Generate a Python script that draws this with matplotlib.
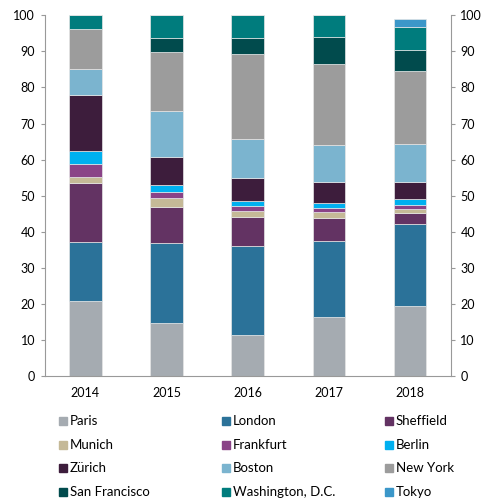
import numpy as np
from matplotlib import pyplot as plt
from matplotlib.patches import Rectangle

plt.rcParams['font.family'] = ['Lato', 'DejaVu Sans']
plt.rcParams['font.size'] = 9

years = ['2014', '2015', '2016', '2017', '2018']
cities = ['Paris', 'London', 'Sheffield', 'Munich', 'Frankfurt', 'Berlin',
          'Zürich', 'Boston', 'New York', 'San Francisco',
          'Washington, D.C.', 'Tokyo']
colors = ['#a5abb1', '#2b7299', '#633363', '#c5b997', '#8a4387', '#00b0f0',
          '#3d1d3c', '#7bb4cf', '#9c9c9c', '#014b4d', '#007c7d', '#3b97c9']

# share of each city per year (%)
paris = [20.8, 14.6, 11.4, 16.3, 19.4]
london = [16.3, 22.2, 24.6, 21.2, 22.8]
sheffield = [16.5, 10.0, 8.1, 6.4, 3.0]
munich = [1.6, 2.5, 1.7, 1.6, 1.1]
frankfurt = [3.7, 1.6, 1.4, 1.1, 1.2]
berlin = [3.5, 2.0, 1.3, 1.5, 1.7]
zurich = [15.4, 7.9, 6.4, 5.8, 4.6]
boston = [7.2, 12.7, 10.7, 10.1, 10.4]
new_york = [11.2, 16.3, 23.7, 22.6, 20.4]
san_francisco = [0.0, 3.9, 4.4, 7.5, 5.9]
washington = [3.8, 6.3, 6.3, 5.9, 6.3]
tokyo = [0.0, 0.0, 0.0, 0.0, 2.2]

series = [paris, london, sheffield, munich, frankfurt, berlin, zurich,
          boston, new_york, san_francisco, washington, tokyo]

W, H = 487, 501
fig = plt.figure(figsize=(W / 100, H / 100), dpi=100)
ax = fig.add_axes([44.7 / W, 1 - 376 / H, 406 / W, 360.7 / H])

x = np.arange(len(years))
bottom = np.zeros(len(years))
for vals, c in zip(series, colors):
    vals = np.array(vals)
    ax.bar(x, vals, 0.4, bottom=bottom, color=c, edgecolor='#e6e6e6',
           linewidth=0.5)
    bottom += vals

ax.set_xlim(-0.5, 4.5)
ax.set_ylim(0, 100)
ax.set_xticks(x)
ax.set_xticklabels(years)
ax.set_yticks(np.arange(0, 101, 10))
ax.tick_params(axis='x', length=0, pad=8, labelsize=9)
ax.tick_params(axis='y', which='both', left=True, right=True,
               labelleft=True, labelright=True, length=3, color='#999999',
               labelsize=9, pad=4)
for s in ['top']:
    ax.spines[s].set_visible(False)
for s in ['left', 'right', 'bottom']:
    ax.spines[s].set_color('#999999')
    ax.spines[s].set_linewidth(0.8)

# legend, three columns laid out row by row
for i, (name, c) in enumerate(zip(cities, colors)):
    row, col = i // 3, i % 3
    px = 59 + 163 * col
    py = 421 + 23.7 * row
    fig.patches.append(Rectangle((px / W, 1 - (py + 4) / H), 8 / W, 8 / H,
                                 transform=fig.transFigure, color=c))
    fig.text((px + 11) / W, 1 - py / H, name, va='center', ha='left',
             fontsize=9.5)

fig.savefig('out.png', dpi=100)
